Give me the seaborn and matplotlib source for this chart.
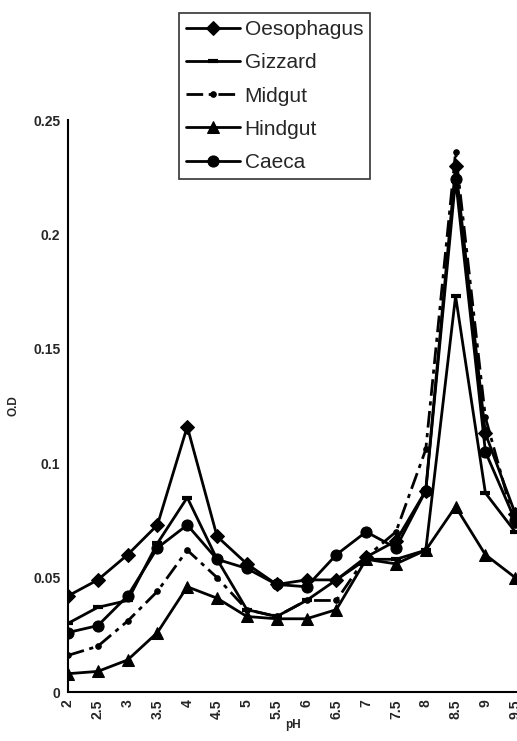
import matplotlib
matplotlib.use("Agg")
import matplotlib.pyplot as plt
import seaborn as sns
import pandas as pd

sns.set_style("white")
plt.rcParams['font.family'] = ['Liberation Sans', 'DejaVu Sans']

ph = [2, 2.5, 3, 3.5, 4, 4.5, 5, 5.5, 6, 6.5, 7, 7.5, 8, 8.5, 9, 9.5]
ph_labels = ["2", "2.5", "3", "3.5", "4", "4.5", "5", "5.5", "6", "6.5",
             "7", "7.5", "8", "8.5", "9", "9.5"]
oesophagus = [0.042, 0.049, 0.060, 0.073, 0.116, 0.068, 0.056, 0.047,
              0.049, 0.049, 0.059, 0.066, 0.088, 0.230, 0.113, 0.078]
gizzard = [0.030, 0.037, 0.040, 0.065, 0.085, 0.058, 0.036, 0.033,
           0.040, 0.049, 0.058, 0.058, 0.062, 0.173, 0.087, 0.070]
midgut = [0.016, 0.020, 0.031, 0.044, 0.062, 0.050, 0.036, 0.033,
          0.040, 0.040, 0.059, 0.070, 0.106, 0.236, 0.120, 0.073]
hindgut = [0.008, 0.009, 0.014, 0.026, 0.046, 0.041, 0.033, 0.032,
           0.032, 0.036, 0.058, 0.056, 0.062, 0.081, 0.060, 0.050]
caeca = [0.026, 0.029, 0.042, 0.063, 0.073, 0.058, 0.054, 0.047,
         0.046, 0.060, 0.070, 0.063, 0.088, 0.224, 0.105, 0.075]

series = [
    ("Oesophagus", oesophagus, dict(marker="D", markersize=7, linestyle="-")),
    ("Gizzard", gizzard, dict(marker="_", markersize=7, markeredgewidth=3, linestyle="-")),
    ("Midgut", midgut, dict(marker="o", markersize=4, linestyle=(0, (6, 2, 1.5, 2)))),
    ("Hindgut", hindgut, dict(marker="^", markersize=8, linestyle="-")),
    ("Caeca", caeca, dict(marker="o", markersize=8, linestyle="-")),
]

fig = plt.figure(figsize=(5.17, 7.41), dpi=100)
ax = fig.add_axes([68 / 517, 49 / 741, (517 - 68) / 517, 572 / 741])

for name, vals, kw in series:
    df = pd.DataFrame({"pH": ph, "OD": vals})
    sns.lineplot(data=df, x="pH", y="OD", ax=ax, color="black", linewidth=2,
                 markeredgecolor="black", label=name, **kw)

ax.set_xlim(2, 9.53)
ax.set_ylim(0, 0.25)
ax.set_xticks(ph)
ax.set_xticklabels(ph_labels, rotation=90, fontweight="bold", fontsize=10)
ax.set_yticks([0, 0.05, 0.1, 0.15, 0.2, 0.25])
ax.set_yticklabels(["0", "0.05", "0.1", "0.15", "0.2", "0.25"],
                   fontweight="bold", fontsize=10)
ax.tick_params(axis="both", direction="inout", length=7, width=1.2,
               color="black", pad=2)
for s in ["top", "right"]:
    ax.spines[s].set_visible(False)
for s in ["left", "bottom"]:
    ax.spines[s].set_color("black")
    ax.spines[s].set_linewidth(1.5)

ax.set_xlabel("pH", fontweight="bold", fontsize=8.5, labelpad=0)
ax.set_ylabel("O.D", fontweight="bold", fontsize=8.5, labelpad=10)

handles, labels = ax.get_legend_handles_labels()
ax.get_legend().remove()
leg = fig.legend(handles, labels, loc="upper left",
                 bbox_to_anchor=(179 / 517, 1 - 13 / 741),
                 frameon=True, fancybox=False, fontsize=15,
                 handlelength=2.6, handletextpad=0.2, labelspacing=0.68,
                 borderpad=0.35, borderaxespad=0)
leg.get_frame().set_edgecolor("black")
leg.get_frame().set_linewidth(1.2)

fig.savefig("out.png", dpi=100)
